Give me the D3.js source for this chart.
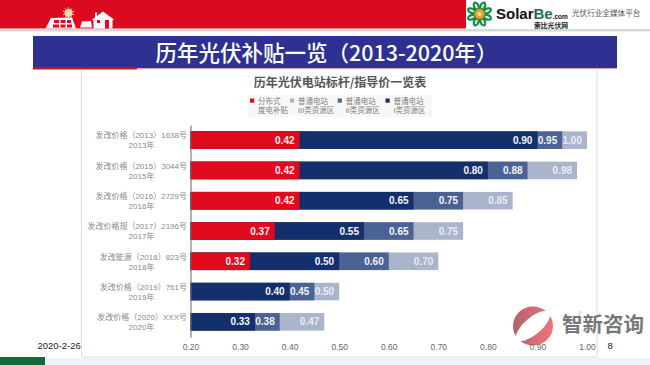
<!DOCTYPE html>
<html>
<head>
<meta charset="utf-8">
<script src="https://cdn.jsdelivr.net/npm/d3@7"></script>
<style>
  html, body { margin: 0; padding: 0; background: #fff; }
  svg { display: block; }
  text { font-family: "Liberation Sans", "Noto Sans CJK SC", sans-serif; }
</style>
</head>
<body>
<div id="wrapper"></div>
<script>
const categories = ["2013", "2015", "2016", "2017", "2018", "2019", "2020"];
const docLabels = [
    "发改价格（2013）1638号",
    "发改价格（2015）3044号",
    "发改价格（2016）2729号",
    "发改价格规（2017）2196号",
    "发改能源（2018）823号",
    "发改价格（2019）761号",
    "发改价格（2020）XXX号"
];
const yearLabels = ["2013年", "2015年", "2016年", "2017年", "2018年", "2019年", "2020年"];

// null = no such segment that year
const distributed = [0.42, 0.42, 0.42, 0.37, 0.32, null, null];
const class1 = [0.90, 0.80, 0.65, 0.55, 0.50, 0.40, 0.33];
const class2 = [0.95, 0.88, 0.75, 0.65, 0.60, 0.45, 0.38];
const class3 = [1.00, 0.98, 0.85, 0.75, 0.70, 0.50, 0.47];

const xTicks = [0.20, 0.30, 0.40, 0.50, 0.60, 0.70, 0.80, 0.90, 1.00];

const seriesNames = [
    ["分布式", "度电补贴"],
    ["普通电站", "III类资源区"],
    ["普通电站", "II类资源区"],
    ["普通电站", "I类资源区"]
];
const seriesColors = ["#df0a1c", "#aab4cb", "#4b6394", "#14306c"];

const svg = d3.select("#wrapper").append("svg")
    .attr("width", 650)
    .attr("height", 365);

// slide background
svg.append("rect").attr("width", 650).attr("height", 365).attr("fill", "#fff");
svg.append("rect").attr("x", 0).attr("y", 358).attr("width", 650).attr("height", 7).attr("fill", "#eef3fb");
svg.append("rect").attr("x", 0).attr("y", 357).attr("width", 45).attr("height", 8).attr("fill", "#0f6b3a");

// header
svg.append("rect").attr("x", 0).attr("y", 0).attr("width", 466).attr("height", 28.5).attr("fill", "#dc0a20");
svg.append("rect").attr("x", 0).attr("y", 29).attr("width", 650).attr("height", 2.5).attr("fill", "#cfdcdc");

// house icons in the header
const icons = svg.append("g").attr("fill", "#fff");
d3.range(10).forEach(i => {
    icons.append("line")
        .attr("x1", 68.5).attr("x2", 68.5).attr("y1", 7.2).attr("y2", 9)
        .attr("stroke", "#f6e3d0").attr("stroke-width", 0.8)
        .attr("transform", `rotate(${i * 36} 68.5 13)`);
});
icons.append("circle").attr("cx", 68.5).attr("cy", 13).attr("r", 4).attr("fill", "#f4d9b8");
icons.append("path").attr("d", "M51 18 L72 17.5 L76 28.5 L45.5 28.5 Z");
icons.append("path").attr("d", "M54 20h5v3h-5zM60.5 20h5v3h-5zM67 20h4v3h-4zM53 24.5h6v3h-6zM60.5 24.5h5v3h-5zM67 24.5h5v3h-5z").attr("fill", "#dc0a20");
icons.append("path").attr("d", "M82 21.5 L91 21 L92 27.5 L80 27.5 Z");
icons.append("path").attr("d", "M92 19.5 L95 17.5 V12.5 H97 V16 L103 11.5 L114 19.5 L112.5 20.5 V28.5 H93.5 V20.5 Z");
icons.append("path").attr("d", "M105 20h4v8.5h-4zM97 20h3v3h-3z").attr("fill", "#dc0a20");

// SolarBe logo
const logo = svg.append("g");
d3.range(8).forEach(i => {
    logo.append("ellipse")
        .attr("cx", 479.5).attr("cy", 6).attr("rx", 3.4).attr("ry", 5.4)
        .attr("fill", "#1e8a4a")
        .attr("transform", `rotate(${i * 45 + 22.5} 479.5 14)`);
    logo.append("ellipse")
        .attr("cx", 479.5).attr("cy", 5.5).attr("rx", 1.2).attr("ry", 2.6)
        .attr("fill", "#d8efe0")
        .attr("transform", `rotate(${i * 45 + 22.5} 479.5 14)`);
});
logo.append("circle").attr("cx", 479.5).attr("cy", 14).attr("r", 5).attr("fill", "#f0a020");
logo.append("circle").attr("cx", 479.5).attr("cy", 14).attr("r", 2).attr("fill", "#fbe6b8");
const brand = logo.append("text").attr("x", 496).attr("y", 19).attr("font-size", 15).attr("font-weight", 700);
brand.append("tspan").attr("fill", "#111").text("Solar");
brand.append("tspan").attr("fill", "#1f6f50").text("Be");
brand.append("tspan").attr("fill", "#111").attr("font-size", 6.5).text(".com");
logo.append("text").attr("x", 534).attr("y", 27.5).attr("font-size", 6.8).attr("font-weight", 700).attr("fill", "#222").text("索比光伏网");
logo.append("text").attr("x", 572).attr("y", 16).attr("font-size", 7.6).attr("fill", "#555").text("光伏行业全媒体平台");

// title band
svg.append("rect").attr("x", 33).attr("y", 36).attr("width", 584).attr("height", 32.5).attr("fill", "#2e3192");
svg.append("rect").attr("x", 33).attr("y", 67).attr("width", 104).attr("height", 2.5).attr("fill", "#c4141c");
svg.append("line").attr("x1", 137).attr("x2", 617).attr("y1", 68.5).attr("y2", 68.5)
    .attr("stroke", "#d9a9b4").attr("stroke-width", 1.2);
svg.append("text").attr("x", 326.5).attr("y", 60.5).attr("text-anchor", "middle")
    .attr("font-size", 21.5).attr("font-weight", 500).attr("fill", "#fff")
    .style("font-family", '"Noto Sans CJK SC", sans-serif')
    .text("历年光伏补贴一览（2013-2020年）");

// chart panel
svg.append("path").attr("d", "M81.5 70 V357 H597 V70").attr("fill", "none").attr("stroke", "#dcdcdc").attr("stroke-width", 1);

svg.append("text").attr("x", 340).attr("y", 86.5).attr("text-anchor", "middle")
    .attr("font-size", 12).attr("font-weight", 700).attr("fill", "#555")
    .style("font-family", '"Noto Sans CJK SC", sans-serif')
    .text("历年光伏电站标杆/指导价一览表");

// legend
svg.append("rect").attr("x", 248).attr("y", 95).attr("width", 184).attr("height", 22).attr("fill", "#f8f8f8");
const legendX = d3.scaleOrdinal().domain(d3.range(4)).range([250, 290, 337.7, 385.5]);
const legend = svg.selectAll(".legend-item")
    .data(seriesNames)
    .enter()
    .append("g")
    .attr("class", "legend-item")
    .attr("transform", (d, i) => `translate(${legendX(i)},0)`);
legend.append("rect").attr("y", 98.5).attr("width", 4.2).attr("height", 4.2)
    .attr("fill", (d, i) => seriesColors[i]);
legend.append("text").attr("x", 8).attr("y", 103.5).attr("font-size", 7.5).attr("fill", "#808080").text(d => d[0]);
legend.append("text").attr("x", 8).attr("y", 112.5).attr("font-size", 7.5).attr("fill", "#808080").text(d => d[1]);

// scales
const xScale = d3.scaleLinear().domain([0.2, 1.0]).range([190.5, 587]);
const yScale = d3.scaleBand().domain(categories).range([125, 337]).paddingInner(0.42).paddingOuter(0.21);

// bars, drawn back to front so every segment starts at the axis
const layers = [class3, class2, class1, distributed];
const layerColors = [seriesColors[1], seriesColors[2], seriesColors[3], seriesColors[0]];
const labelColors = ["#e9ecf3", "#f2f4f8", "#f4f6fa", "#fdf0f0"];

layers.forEach((values, li) => {
    const layer = svg.append("g");
    const rows = values
        .map((v, i) => ({ cat: categories[i], v }))
        .filter(d => d.v !== null);
    layer.selectAll("rect")
        .data(rows)
        .enter()
        .append("rect")
        .attr("x", xScale(0.2))
        .attr("y", d => yScale(d.cat))
        .attr("width", d => xScale(d.v) - xScale(0.2))
        .attr("height", yScale.bandwidth())
        .attr("fill", layerColors[li]);
    layer.selectAll("text")
        .data(rows)
        .enter()
        .append("text")
        .attr("x", d => xScale(d.v) - 5)
        .attr("y", d => yScale(d.cat) + yScale.bandwidth() / 2 + 3.6)
        .attr("text-anchor", "end")
        .attr("font-size", 10)
        .attr("font-weight", 700)
        .attr("fill", labelColors[li])
        .text(d => d.v.toFixed(2));
});

// axes
const yAxis = svg.append("g")
    .attr("transform", `translate(${xScale(0.2)},0)`)
    .call(d3.axisLeft(yScale).tickSize(0).tickPadding(3).tickFormat(""));
yAxis.select(".domain").attr("stroke", "#666").attr("stroke-width", 1);
yAxis.selectAll(".tick text").remove();
yAxis.selectAll(".tick").each(function (d, i) {
    const t = d3.select(this);
    t.append("text").attr("x", -3.5).attr("y", -1.7).attr("text-anchor", "end")
        .attr("font-size", 8).attr("fill", "#8a8a8a").text(docLabels[i]);
    t.append("text").attr("x", -49).attr("y", 8.3).attr("text-anchor", "middle")
        .attr("font-size", 8).attr("fill", "#8a8a8a").text(yearLabels[i]);
});

// slide footer
svg.append("text").attr("x", 37.5).attr("y", 349).attr("font-size", 9.5).attr("fill", "#222").text("2020-2-26");
svg.append("text").attr("x", 607.5).attr("y", 349).attr("font-size", 9.5).attr("fill", "#222").text("8");

// watermark
const defs = svg.append("defs");
const grad = defs.append("linearGradient").attr("id", "ringFill");
grad.append("stop").attr("offset", "0%").attr("stop-color", "#b0646a");
grad.append("stop").attr("offset", "100%").attr("stop-color", "#f2747a");
const mark = svg.append("g");
mark.append("ellipse").attr("cx", 533).attr("cy", 326).attr("rx", 20).attr("ry", 19.5).attr("fill", "url(#ringFill)");
mark.append("ellipse").attr("cx", 533).attr("cy", 326).attr("rx", 21).attr("ry", 8.5)
    .attr("fill", "#fff").attr("transform", "rotate(-40 533 326)");
mark.append("text").attr("x", 562).attr("y", 332).attr("font-size", 20.5).attr("font-weight", 700)
    .attr("fill", "#787878")
    .style("font-family", '"Noto Sans CJK SC", sans-serif')
    .text("智新咨询");
mark.selectAll("circle.dot")
    .data([0, 1, 2])
    .enter()
    .append("circle")
    .attr("class", "dot")
    .attr("cx", d => 578.5 + d)
    .attr("cy", d => 316 - d * 2)
    .attr("r", 0.6)
    .attr("fill", "#d9363e");

// x axis labels sit on top of the watermark ring
const xAxis = svg.append("g")
    .attr("transform", "translate(0,337)")
    .call(d3.axisBottom(xScale).tickValues(xTicks).tickSize(0).tickPadding(7).tickFormat(d3.format(".2f")));
xAxis.select(".domain").remove();
xAxis.selectAll(".tick text")
    .attr("font-size", 8.5)
    .attr("fill", "#666")
    .style("font-family", '"Liberation Sans", sans-serif');
</script>
</body>
</html>
